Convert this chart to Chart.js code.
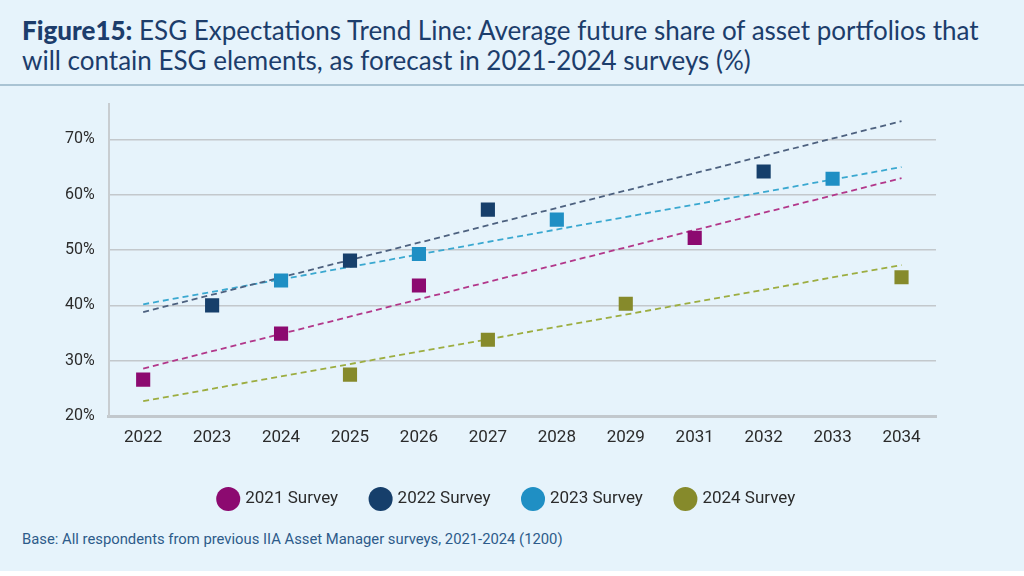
<!DOCTYPE html>
<html lang="en">
<head>
    <meta charset="UTF-8">
    <title>ESG Expectations Trend Line</title>
    <script src="https://cdn.jsdelivr.net/npm/chart.js"></script>
    <style>
        html, body {
            margin: 0;
            padding: 0;
            background: #ffffff;
        }
        #page {
            position: relative;
            width: 1024px;
            height: 571px;
            background: #e6f3fb;
            overflow: hidden;
        }
        #title {
            position: absolute;
            left: 22px;
            top: 15px;
            font-family: Lato, sans-serif;
            font-size: 26px;
            line-height: 30px;
            color: #1c3d6b;
            white-space: nowrap;
        }
        #title b {
            font-weight: 900;
        }
        #rule {
            position: absolute;
            left: 0;
            top: 84px;
            width: 1024px;
            height: 2px;
            background: #a9c3d3;
        }
        #chartContainer {
            position: absolute;
            left: 0;
            top: 88px;
            width: 1024px;
            height: 430px;
        }
        #base {
            position: absolute;
            left: 22px;
            top: 530px;
            font-family: Roboto, sans-serif;
            font-size: 14.8px;
            color: #2d5b8a;
        }
    </style>
</head>
<body>
<div id="page">
    <div id="title"><b>Figure15:</b> ESG Expectations Trend Line: Average future share of asset portfolios that<br>will contain ESG elements, as forecast in 2021-2024 surveys (%)</div>
    <div id="rule"></div>
    <div id="chartContainer">
        <canvas id="myChart"></canvas>
    </div>
    <div id="base">Base: All respondents from previous IIA Asset Manager surveys, 2021-2024 (1200)</div>
</div>
<script>
    // categories (2030 is not on the axis)
    const years = ['2022', '2023', '2024', '2025', '2026', '2027', '2028', '2029', '2031', '2032', '2033', '2034'];

    // survey forecasts, % (null = no value for that year)
    const survey2021 = [26.6, null, 34.9, null, 43.6, null, null, null, 52.2, null, null, null];
    const survey2022 = [null, 40.0, null, 48.1, null, 57.3, null, null, null, 64.2, null, null];
    const survey2023 = [null, null, 44.5, null, 49.3, null, 55.5, null, null, null, 62.9, null];
    const survey2024 = [null, null, null, 27.5, null, 33.8, null, 40.3, null, null, null, 45.1];

    // trend line ends (2022, 2034)
    const trend2021 = [28.6, 63.0];
    const trend2022 = [38.8, 73.3];
    const trend2023 = [40.2, 65.0];
    const trend2024 = [22.7, 47.3];

    const surveyNames = ['2021 Survey', '2022 Survey', '2023 Survey', '2024 Survey'];
    const yTicks = [20, 30, 40, 50, 60, 70];

    const markColors = ['#8c0a70', '#163f6b', '#1f8fc4', '#868a2b'];
    const trendColors = ['#b2378a', '#4d617f', '#3aa8d0', '#9cad40'];

    const surveys = [survey2021, survey2022, survey2023, survey2024];
    const trends = [trend2021, trend2022, trend2023, trend2024];

    const datasets = [];
    surveys.forEach(function(values, i) {
        datasets.push({
            label: surveyNames[i],
            data: values,
            showLine: false,
            pointStyle: 'rect',
            pointRadius: 10,
            pointHoverRadius: 10,
            backgroundColor: markColors[i],
            borderColor: markColors[i],
            borderWidth: 0,
            order: 0
        });
    });
    trends.forEach(function(ends, i) {
        datasets.push({
            label: 'trend ' + surveyNames[i],
            data: [{ x: years[0], y: ends[0] }, { x: years[years.length - 1], y: ends[1] }],
            borderColor: trendColors[i],
            borderWidth: 1.8,
            borderDash: [6, 4],
            pointRadius: 0,
            fill: false,
            order: 1
        });
    });

    // legend sits a bit right of the chart centre in the original
    const legendShift = {
        id: 'legendShift',
        afterLayout: function(chart) {
            chart.legend.left += 14;
            chart.legend.right += 14;
        }
    };

    const ctx = document.getElementById('myChart').getContext('2d');
    new Chart(ctx, {
        type: 'line',
        data: {
            labels: years,
            datasets: datasets
        },
        plugins: [legendShift],
        options: {
            responsive: true,
            maintainAspectRatio: false,
            animation: false,
            layout: {
                padding: { left: 51, right: 88, top: 16, bottom: 0.5 }
            },
            scales: {
                x: {
                    offset: true,
                    grid: { display: false },
                    border: { display: true, color: '#c2c8cd', width: 3 },
                    ticks: {
                        color: '#2b2b2b',
                        padding: 3,
                        font: { family: 'Roboto', size: 17 }
                    },
                    afterFit: function(scale) {
                        scale.height += 6;
                    }
                },
                y: {
                    min: 20,
                    max: 76.4,
                    afterBuildTicks: function(axis) {
                        axis.ticks = yTicks.map(function(v) { return { value: v }; });
                    },
                    afterFit: function(scale) {
                        scale.paddingTop = 0;
                    },
                    grid: { color: '#c3c8cc', lineWidth: 1.5, drawTicks: false },
                    border: { display: true, color: '#c8cdd1', width: 2 },
                    ticks: {
                        color: '#2b2b2b',
                        padding: 14,
                        font: { family: 'Roboto', size: 16 },
                        callback: function(v) { return v + '%'; }
                    }
                }
            },
            plugins: {
                legend: {
                    display: true,
                    position: 'bottom',
                    labels: {
                        usePointStyle: true,
                        pointStyle: 'circle',
                        color: '#2b2b2b',
                        padding: 34,
                        font: { family: 'Roboto', size: 17 },
                        filter: function(item) { return item.datasetIndex < 4; }
                    }
                },
                tooltip: { enabled: false }
            }
        }
    });
</script>
</body>
</html>
